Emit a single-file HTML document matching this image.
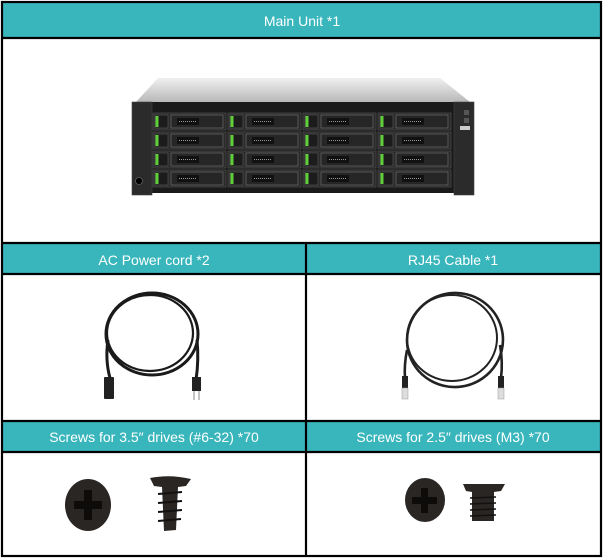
<!DOCTYPE html>
<html><head><style>
html,body{margin:0;padding:0;background:#fff;}
svg{display:block;}
</style></head><body>
<svg width="603" height="559" viewBox="0 0 603 559" xmlns="http://www.w3.org/2000/svg" font-family="Liberation Sans, sans-serif">
<defs>
<linearGradient id="top" x1="0" y1="0" x2="0" y2="1"><stop offset="0" stop-color="#f0f0f0"/><stop offset="1" stop-color="#b8b8b8"/></linearGradient>
<g id="bay">
  <rect x="0" y="0" width="73" height="17" fill="#2a2a2a" stroke="#555" stroke-width="0.6"/>
  <rect x="2" y="2" width="13" height="13" fill="#1c1c1c" stroke="#666" stroke-width="0.5"/>
  <rect x="2.5" y="3" width="3" height="11" fill="#5fcf3a"/>
  <rect x="18" y="2" width="52" height="13" fill="#262626" stroke="#777" stroke-width="0.6"/>
  <rect x="24" y="5" width="22" height="7" fill="#111"/>
  <line x1="26" y1="8.5" x2="44" y2="8.5" stroke="#999" stroke-width="1" stroke-dasharray="1,1"/>
</g>
</defs>
<rect width="603" height="559" fill="#fff"/>
<rect x="3" y="3" width="597" height="35" fill="#38b6bc"/>
<rect x="3" y="244" width="597" height="30" fill="#38b6bc"/>
<rect x="3" y="421" width="597" height="31" fill="#38b6bc"/>
<g fill="#fff" font-size="14" text-anchor="middle">
<text x="302" y="26">Main Unit *1</text>
<text x="154" y="265">AC Power cord *2</text>
<text x="453" y="265">RJ45 Cable *1</text>
<text x="154" y="442">Screws for 3.5″ drives (#6-32) *70</text>
<text x="453" y="442">Screws for 2.5″ drives (M3) *70</text>
</g>
<g stroke="#000" stroke-width="2.2" fill="none">
<rect x="2" y="2" width="599" height="554"/>
<line x1="2" y1="38" x2="601" y2="38"/>
<line x1="2" y1="243" x2="601" y2="243"/>
<line x1="2" y1="274" x2="601" y2="274"/>
<line x1="2" y1="421" x2="601" y2="421"/>
<line x1="2" y1="452" x2="601" y2="452"/>
<line x1="306" y1="243" x2="306" y2="556"/>
</g>
<polygon points="158,78 440,78 470,102 136,102" fill="url(#top)"/>
<rect x="150" y="102" width="306" height="91" fill="#1a1a1a"/>
<rect x="132" y="102" width="20" height="93" fill="#2b2b2b" stroke="#444" stroke-width="0.6"/>
<rect x="454" y="102" width="20" height="93" fill="#2b2b2b" stroke="#444" stroke-width="0.6"/>
<circle cx="139" cy="181" r="3.5" fill="#000" stroke="#777" stroke-width="0.6"/>
<rect x="460" y="126" width="10" height="4" fill="#ccc"/>
<rect x="464" y="110" width="5" height="5" fill="#555"/>
<rect x="464" y="118" width="5" height="5" fill="#555"/>
<g>
<use href="#bay" x="153" y="113"/><use href="#bay" x="153" y="132"/><use href="#bay" x="153" y="151"/><use href="#bay" x="153" y="170"/>
<use href="#bay" x="228" y="113"/><use href="#bay" x="228" y="132"/><use href="#bay" x="228" y="151"/><use href="#bay" x="228" y="170"/>
<use href="#bay" x="303" y="113"/><use href="#bay" x="303" y="132"/><use href="#bay" x="303" y="151"/><use href="#bay" x="303" y="170"/>
<use href="#bay" x="378" y="113"/><use href="#bay" x="378" y="132"/><use href="#bay" x="378" y="151"/><use href="#bay" x="378" y="170"/>
</g>
<g fill="none" stroke="#1a1a1a" stroke-width="3">
<ellipse cx="152" cy="334" rx="46" ry="41"/>
<ellipse cx="150" cy="333" rx="43" ry="38" stroke-width="2.2"/>
<path d="M108 340 Q105 360 110 378"/>
<path d="M197 340 Q199 360 196 380"/>
</g>
<rect x="104" y="377" width="10" height="22" rx="1" fill="#222"/>
<rect x="192" y="377" width="9" height="14" fill="#222"/>
<line x1="194" y1="391" x2="194" y2="400" stroke="#888" stroke-width="1"/>
<line x1="199" y1="391" x2="199" y2="400" stroke="#888" stroke-width="1"/>
<g fill="none" stroke="#222" stroke-width="2.6">
<ellipse cx="455" cy="340" rx="48" ry="47" transform="rotate(-8 455 340)"/>
<ellipse cx="452" cy="338" rx="45" ry="43" stroke-width="2"/>
<path d="M407 350 Q404 365 405 378"/>
<path d="M500 345 Q503 362 501 378"/>
</g>
<rect x="402" y="376" width="6" height="12" fill="#222"/>
<rect x="402" y="388" width="6" height="11" fill="#ddd" stroke="#999" stroke-width="0.5"/>
<rect x="498" y="376" width="6" height="12" fill="#222"/>
<rect x="498" y="388" width="6" height="11" fill="#ddd" stroke="#999" stroke-width="0.5"/>
<ellipse cx="88" cy="505" rx="23" ry="26" fill="#2a2624"/>
<path d="M84 490 h8 v11 h10 v8 h-10 v11 h-8 v-11 h-10 v-8 h10z" fill="#0e0c0b"/>
<path d="M150 478 Q170 474 191 479 L186 486 L178 487 L176 530 L164 531 L162 487 L154 486 Z" fill="#2a2624"/>
<g stroke="#111" stroke-width="2"><line x1="158" y1="494" x2="182" y2="492"/><line x1="158" y1="503" x2="182" y2="501"/><line x1="158" y1="512" x2="182" y2="510"/><line x1="158" y1="521" x2="181" y2="519"/></g>
<ellipse cx="425" cy="500" rx="20" ry="22" fill="#2a2624"/>
<path d="M421 488 h7 v9 h9 v7 h-9 v9 h-7 v-9 h-9 v-7 h9z" fill="#0e0c0b"/>
<path d="M463 484 L505 484 L501 491 L494 492 L494 521 L472 521 L472 492 L466 491 Z" fill="#2a2624"/>
<g stroke="#111" stroke-width="1.5"><line x1="470" y1="498" x2="496" y2="497"/><line x1="470" y1="504" x2="496" y2="503"/><line x1="470" y1="510" x2="496" y2="509"/><line x1="470" y1="516" x2="496" y2="515"/></g>
</svg>
</body></html>
